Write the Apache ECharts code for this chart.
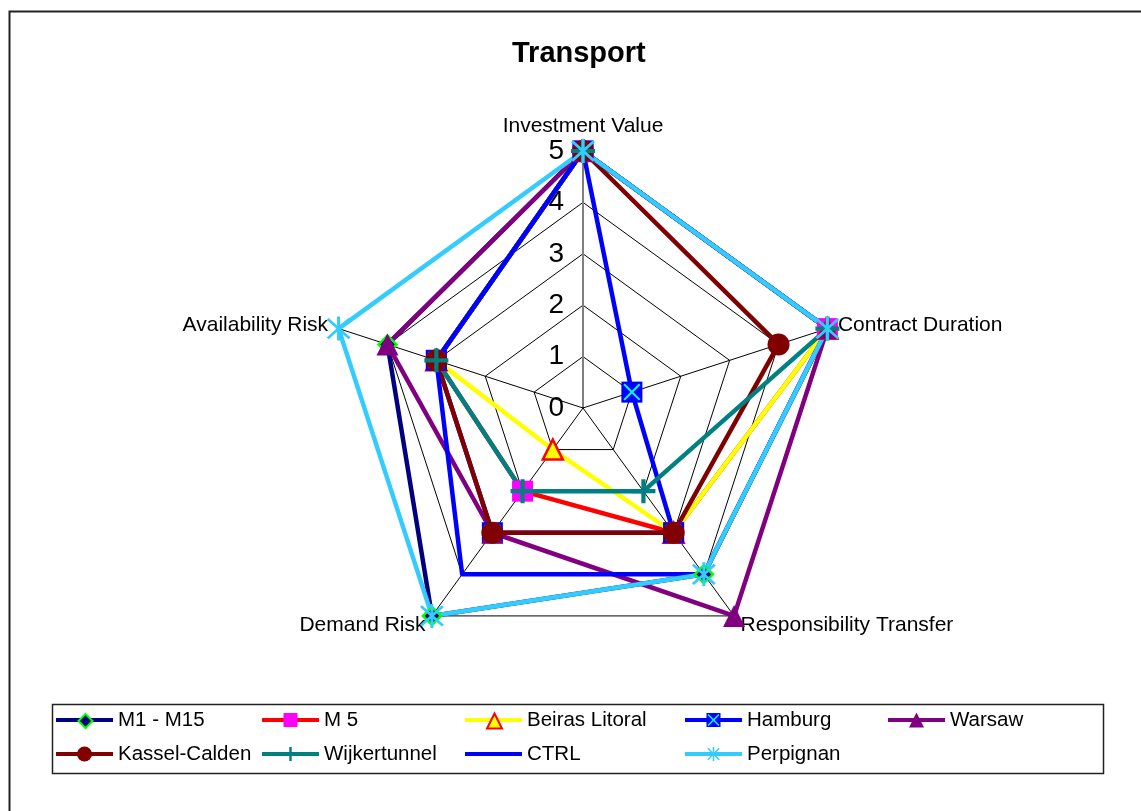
<!DOCTYPE html>
<html>
<head>
<meta charset="utf-8">
<script src="https://cdn.jsdelivr.net/npm/echarts@6/dist/echarts.min.js"></script>
<style>
html, body { margin: 0; padding: 0; background: #fff; }
#chart { width: 1141px; height: 811px; }
</style>
</head>
<body>
<div id="chart"></div>
<script>
// axes listed counter-clockwise from the top, the way the radar lays them out
var indicators = ['Investment Value', 'Availability Risk', 'Demand Risk', 'Responsibility Transfer', 'Contract Duration'];
var maxValue = 5;

var m1m15 = [5, 4, 5, 4, 5];
var m5 = [5, 3, 2, 3, 5];
var beiras = [5, 3, 1, 3, 5];
var hamburg = [5, 3, 3, 3, 1];
var warsaw = [5, 4, 3, 5, 5];
var kassel = [5, 3, 3, 3, 4];
var wijker = [5, 3, 2, 2, 5];
var ctrl = [5, 3, 4, 4, 5];
var perpignan = [5, 5, 5, 4, 5];

var font = 'Liberation Sans, Arial, sans-serif';

var plusPath = 'path://M-1.4,-8 L1.4,-8 L1.4,-1.4 L8,-1.4 L8,1.4 L1.4,1.4 L1.4,8 L-1.4,8 L-1.4,1.4 L-8,1.4 L-8,-1.4 L-1.4,-1.4 Z';
var crossPath = 'path://M-8,-6.6 L-6.6,-8 L8,6.6 L6.6,8 Z M8,-6.6 L-6.6,8 L-8,6.6 L6.6,-8 Z';
var starPath = 'path://M-8,-6.6 L-6.6,-8 L8,6.6 L6.6,8 Z M8,-6.6 L-6.6,8 L-8,6.6 L6.6,-8 Z M-1,-9 L1,-9 L1,9 L-1,9 Z';

var seriesList = [
    { name: 'M1 - M15', data: m1m15, line: '#000080', symbol: 'diamond', fill: '#000080', border: '#00FF00', bw: 2.5, size: 18 },
    { name: 'M 5', data: m5, line: '#FF0000', symbol: 'rect', fill: '#FF00FF', border: '#FF00FF', bw: 0, size: 21 },
    { name: 'Beiras Litoral', data: beiras, line: '#FFFF00', symbol: 'triangle', fill: '#FFFF00', border: '#FF0000', bw: 2.5, size: 20 },
    { name: 'Hamburg', data: hamburg, line: '#0000FF', symbol: 'rect', fill: '#0000FF', border: '#0000FF', bw: 0, size: 21, cross: true },
    { name: 'Warsaw', data: warsaw, line: '#800080', symbol: 'triangle', fill: '#800080', border: '#800080', bw: 0, size: 22 },
    { name: 'Kassel-Calden', data: kassel, line: '#800000', symbol: 'circle', fill: '#800000', border: '#800000', bw: 0, size: 22 },
    { name: 'Wijkertunnel', data: wijker, line: '#008080', symbol: plusPath, fill: '#008080', border: '#008080', bw: 0, size: 24 },
    { name: 'CTRL', data: ctrl, line: '#0000FF', symbol: 'none', fill: '#0000FF', border: '#0000FF', bw: 0, size: 0 },
    { name: 'Perpignan', data: perpignan, line: '#33CCFF', symbol: starPath, fill: '#33CCFF', border: '#33CCFF', bw: 0, size: 24 }
];

var series = [];
seriesList.forEach(function (s) {
    series.push({
        type: 'radar',
        name: s.name,
        symbol: s.symbol,
        symbolSize: s.size,
        lineStyle: { color: s.line, width: 4.5 },
        itemStyle: { color: s.fill, borderColor: s.border, borderWidth: s.bw },
        emphasis: { disabled: true },
        data: [{ name: s.name, value: s.data }]
    });
    if (s.cross) {
        series.push({
            type: 'radar',
            name: s.name,
            symbol: crossPath,
            symbolSize: 17,
            lineStyle: { width: 0, opacity: 0 },
            itemStyle: { color: '#00FFFF' },
            emphasis: { disabled: true },
            data: [{ name: s.name, value: s.data }]
        });
    }
});

// legend: 5 columns, 2 rows
var colX = [56, 262, 465, 685, 888];
var rowY = [720, 754];
var legends = [];
seriesList.forEach(function (s, i) {
    var x = colX[i % 5];
    var y = rowY[Math.floor(i / 5)];
    legends.push({
        left: x, top: y - 11, padding: 0,
        itemWidth: 57, itemHeight: 4,
        textStyle: { fontSize: 20.5, lineHeight: 22, color: '#000', fontFamily: font },
        data: [{ name: s.name, icon: 'path://M0,0 L57,0 L57,4 L0,4 Z', itemStyle: { color: s.line, borderWidth: 0 } }]
    });
    if (s.symbol !== 'none') {
        var sz = s.symbol === 'circle' || s.symbol === 'triangle' ? 15 : 14;
        legends.push({
            left: x + 28.5 - sz / 2, top: y - sz / 2, padding: 0,
            itemWidth: sz, itemHeight: sz,
            formatter: function () { return ''; },
            data: [{ name: s.name, icon: s.symbol, itemStyle: { color: s.fill, borderColor: s.border, borderWidth: s.bw ? 2 : 0 } }]
        });
    }
    if (s.cross) {
        legends.push({
            left: x + 28.5 - 6, top: y - 6, padding: 0,
            itemWidth: 12, itemHeight: 12,
            formatter: function () { return ''; },
            data: [{ name: s.name, icon: crossPath, itemStyle: { color: '#00FFFF', borderWidth: 0 } }]
        });
    }
});

var myChart = echarts.init(document.getElementById('chart'));
option = {
    backgroundColor: '#fff',
    animation: false,
    title: {
        text: 'Transport',
        left: 507,
        top: 34,
        textStyle: { fontSize: 29, fontWeight: 'bold', color: '#000', fontFamily: font }
    },
    graphic: [
        { type: 'rect', left: 7, top: 9, shape: { width: 1200, height: 900 }, style: { fill: 'none', stroke: '#222', lineWidth: 2 }, silent: true },
        { type: 'rect', left: 50, top: 702, shape: { width: 1051, height: 69 }, style: { fill: 'none', stroke: '#222', lineWidth: 1.5 }, silent: true }
    ],
    legend: legends,
    radar: {
        center: [583, 408],
        radius: 257,
        startAngle: 90,
        shape: 'polygon',
        splitNumber: 5,
        axisName: { color: '#000', fontSize: 21, fontFamily: font },
        nameGap: 11,
        splitLine: { lineStyle: { color: '#000', width: 1 } },
        splitArea: { show: false },
        axisLine: { lineStyle: { color: '#000', width: 1 } },
        axisTick: { show: false },
        axisLabel: { show: false, color: '#000', fontSize: 28, fontFamily: font, margin: 19 },
        indicator: indicators.map(function (n, i) {
            var ind = { name: n, min: 0, max: maxValue };
            if (i === 0) {
                ind.axisLabel = { show: true };
                ind.axisLine = { lineStyle: { color: '#808080', width: 2 } };
            }
            return ind;
        })
    },
    series: series
};
myChart.setOption(option);
</script>
</body>
</html>
